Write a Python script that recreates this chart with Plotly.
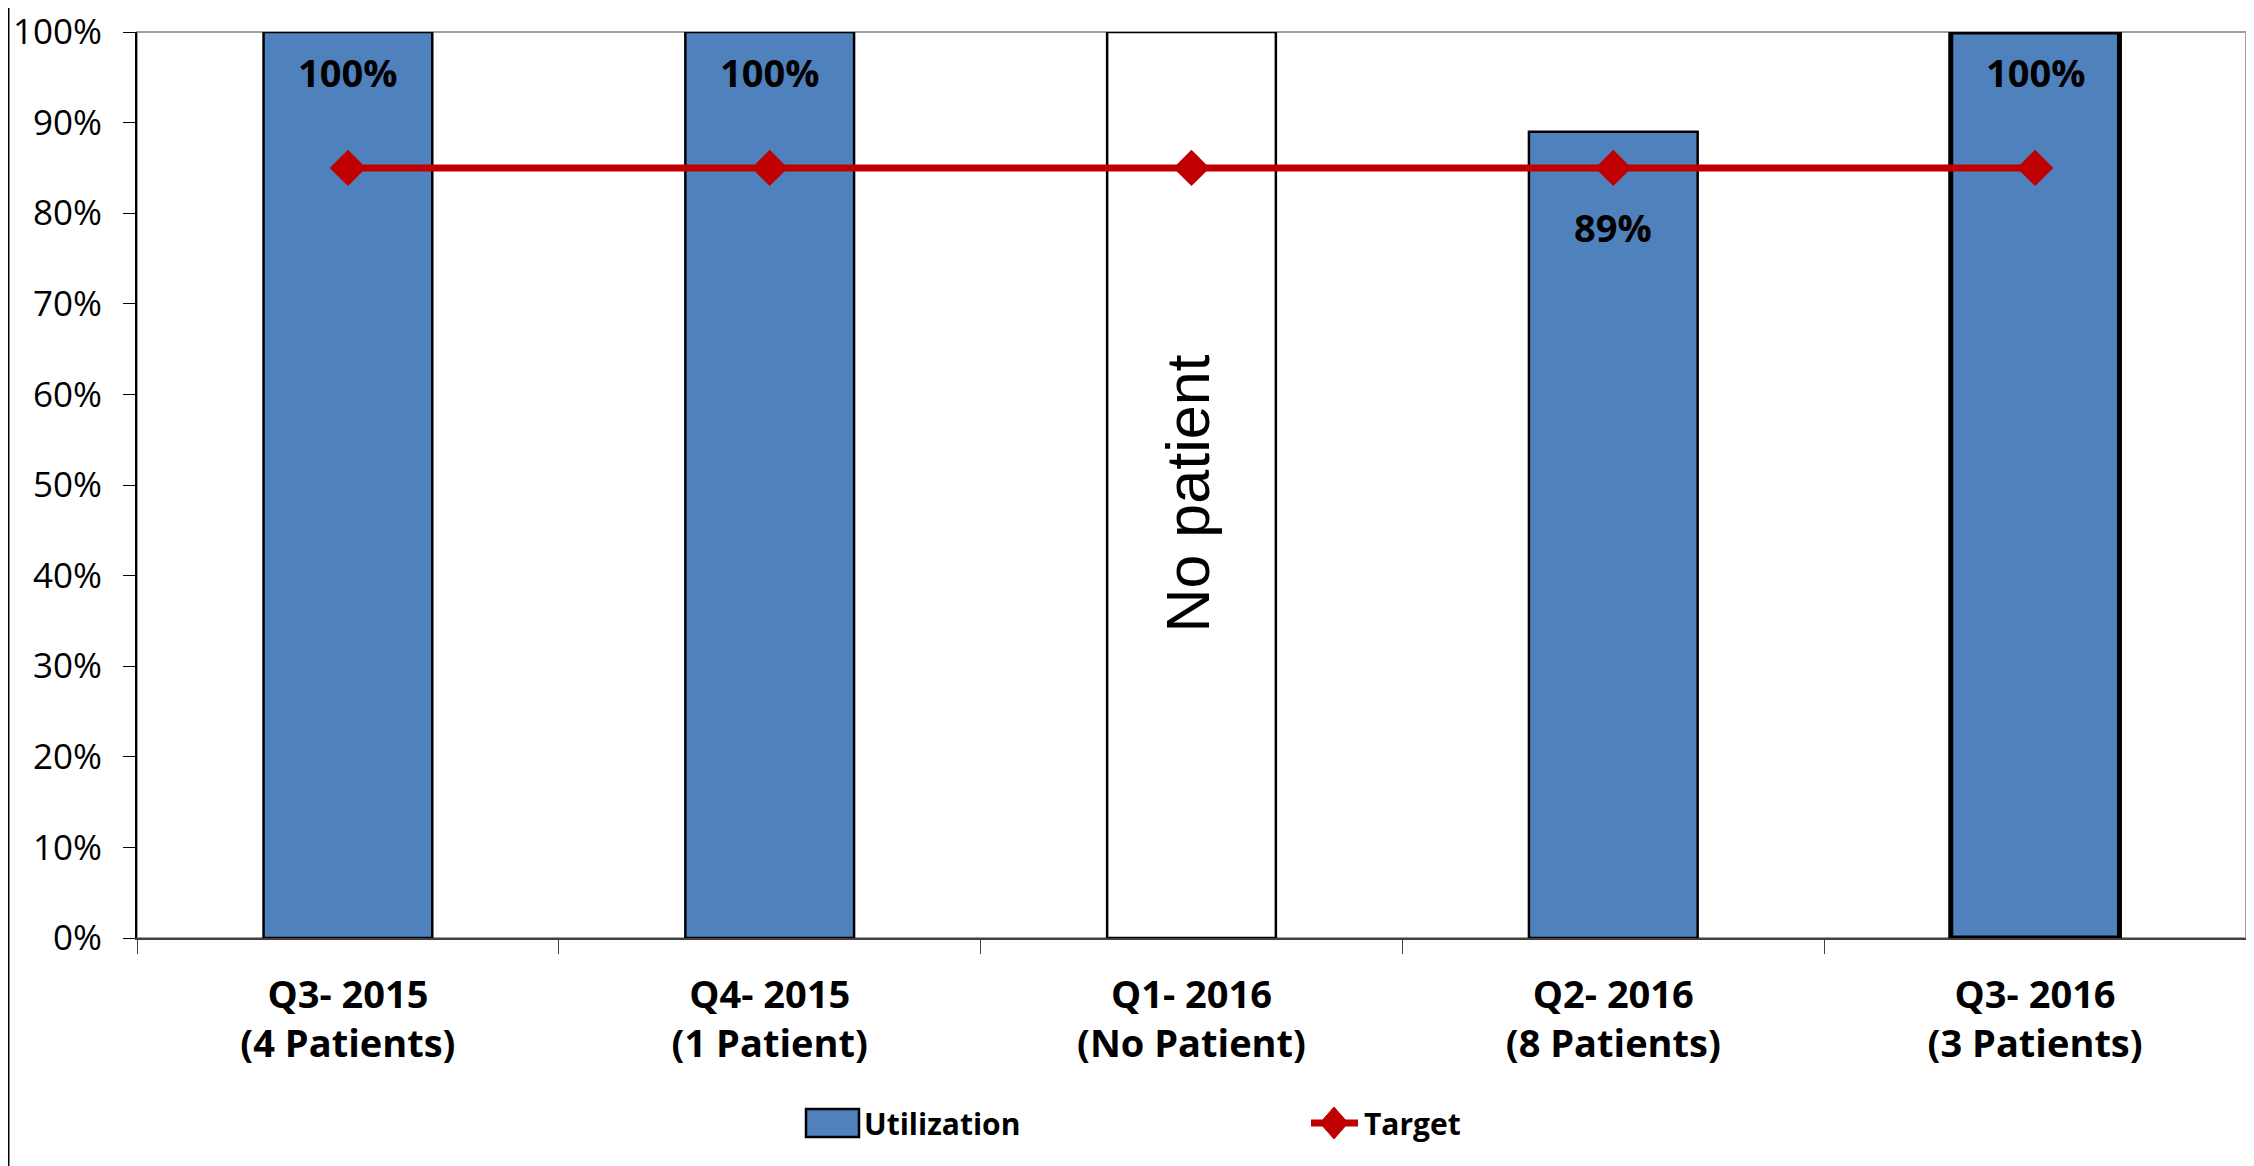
import plotly.graph_objects as go

quarters = ['Q3- 2015<br>(4 Patients)', 'Q4- 2015<br>(1 Patient)', 'Q1- 2016<br>(No Patient)',
            'Q2- 2016<br>(8 Patients)', 'Q3- 2016<br>(3 Patients)']
utilization = [100, 100, 100, 89, 100]
utilization_labels = ['100%', '100%', '', '89%', '100%']
target = [85, 85, 85, 85, 85]
no_patient_idx = 2

W, H = 2254, 1166
M = dict(l=129, r=16, t=24, b=236)
pw = W - M['l'] - M['r']
ph = H - M['t'] - M['b']

BLUE = '#4F81BD'
RED = '#C00000'

bar_fill = ['#FFFFFF' if i == no_patient_idx else BLUE for i in range(len(quarters))]
bar_edge = [2.5, 2.5, 2.5, 2.5, 5]

fig = go.Figure()
fig.add_trace(go.Bar(x=quarters, y=utilization, name='Utilization', showlegend=False,
                     marker=dict(color=bar_fill, line=dict(color='black', width=bar_edge))))
fig.add_trace(go.Scatter(x=quarters, y=target, name='Target', mode='lines+markers', showlegend=False,
                         line=dict(color=RED, width=7),
                         marker=dict(symbol='diamond', size=28, color=RED)))

# value labels inside the bars; the one near the target line sits lower
for q, v, lab in zip(quarters, utilization, utilization_labels):
    if not lab:
        continue
    shift = -95 if abs(v - target[0]) < 8 else -40
    fig.add_annotation(x=q, y=v, text='<b>' + lab + '</b>', showarrow=False, yshift=shift,
                       font=dict(family='Open Sans', size=38, color='black'))

fig.add_annotation(x=quarters[no_patient_idx], y=49, text='No patient', textangle=-90, showarrow=False,
                   xshift=-3, font=dict(family='Liberation Sans', size=61, color='black'))


def px_x(x):
    return (x - 137) / pw


def px_y(y):
    return (938 - y) / ph


# plot frame and outer chart border
fig.add_shape(type='rect', xref='paper', yref='paper', x0=0, x1=1, y0=0, y1=1,
              line=dict(color='#A0A0A0', width=2), layer='below')
fig.add_shape(type='line', xref='paper', yref='paper', x0=px_x(8), x1=px_x(8),
              y0=px_y(1200), y1=px_y(-20), line=dict(color='black', width=3))

# legend drawn below the chart
fig.add_shape(type='rect', xref='paper', yref='paper', x0=px_x(806), x1=px_x(859),
              y0=px_y(1137), y1=px_y(1109), fillcolor=BLUE, line=dict(color='black', width=2.5))
fig.add_annotation(xref='paper', yref='paper', x=px_x(862), y=px_y(1123), xanchor='left', yanchor='middle',
                   text='<b>Utilization</b>', showarrow=False,
                   font=dict(family='Open Sans', size=30, color='black'))
fig.add_shape(type='line', xref='paper', yref='paper', x0=px_x(1311), x1=px_x(1358),
              y0=px_y(1123), y1=px_y(1123), line=dict(color=RED, width=7))
dx, dy = 14 / pw, 16 / ph
cx, cy = px_x(1334), px_y(1123)
fig.add_shape(type='path', xref='paper', yref='paper', fillcolor=RED, line=dict(color=RED, width=1),
              path=f'M {cx - dx} {cy} L {cx} {cy + dy} L {cx + dx} {cy} L {cx} {cy - dy} Z')
fig.add_annotation(xref='paper', yref='paper', x=px_x(1362), y=px_y(1123), xanchor='left', yanchor='middle',
                   text='<b>Target</b>', showarrow=False,
                   font=dict(family='Open Sans', size=30, color='black'))

fig.update_layout(
    width=W, height=H, margin=M, plot_bgcolor='white', paper_bgcolor='white',
    bargap=0.6, showlegend=False,
    font=dict(family='Open Sans', color='black'),
)
fig.update_xaxes(showline=True, linecolor='#404040', linewidth=2, ticks='outside', tickson='boundaries',
                 ticklen=14, tickcolor='#404040', showgrid=False, automargin=False, ticklabelstandoff=22,
                 tickfont=dict(family='Open Sans', size=38, color='black', weight='bold'))
fig.update_yaxes(range=[0, 100], dtick=10, ticksuffix='%', showline=True, linecolor='black', linewidth=2,
                 ticks='outside', ticklen=12, tickcolor='black', showgrid=False, zeroline=False,
                 automargin=False, ticklabelstandoff=14, ticklabeloverflow='allow',
                 tickfont=dict(family='Open Sans', size=35, color='black'))

fig.write_html('out.html')
